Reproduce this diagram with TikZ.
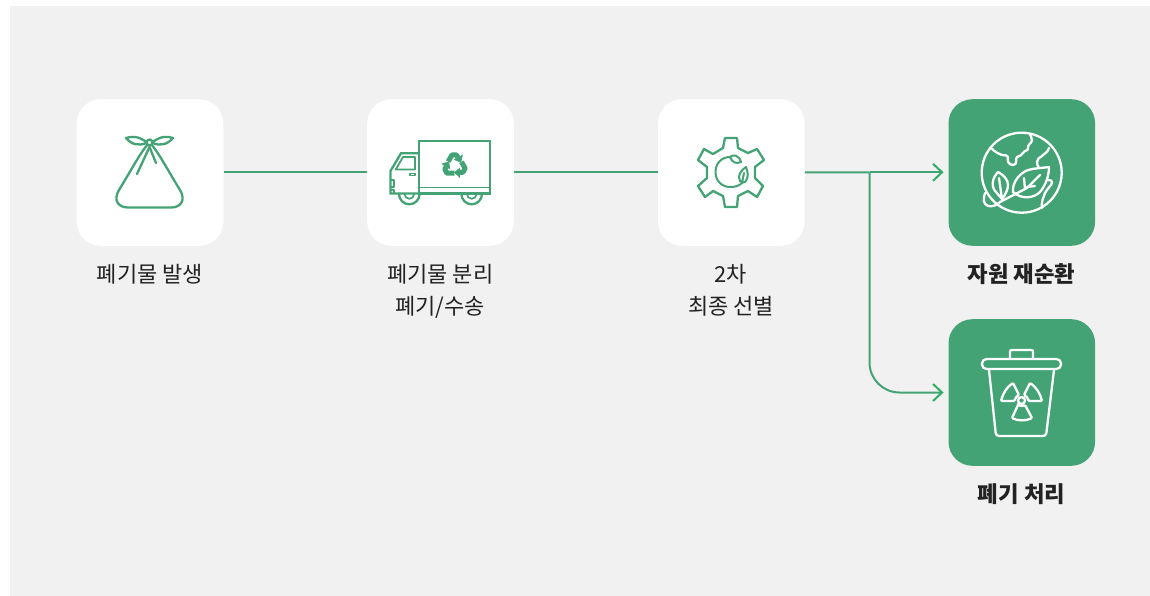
\documentclass[tikz,border=0pt]{standalone}
\usepackage{fontspec}
\setmainfont{Noto Sans CJK KR}
\usetikzlibrary{arrows.meta}
\definecolor{bgc}{HTML}{F1F1F1}
\definecolor{grn}{HTML}{43A374}
\definecolor{arrowg}{HTML}{2FAE63}
\definecolor{txt}{HTML}{222222}
\tikzset{
 x=1pt,y=-1pt,
 card/.style={rounded corners=24pt,minimum width=146.6pt,minimum height=146.6pt,inner sep=0pt,anchor=north west},
 whitecard/.style={card,fill=white},
 greencard/.style={card,fill=grn},
 caption/.style={text=txt,font=\fontsize{22pt}{32pt}\selectfont,align=center,anchor=north},
 boldcaption/.style={caption,font=\fontsize{22.3pt}{32pt}\selectfont\bfseries},
 link/.style={draw=grn,line width=2pt},
 arr/.style={link,-{Straight Barb[length=9pt,width=17pt,line width=2pt,color=arrowg]}},
 gi/.style={draw=grn,line width=2.3pt,line join=round,line cap=round},
 wi/.style={draw=white,line width=2.3pt,line join=round,line cap=round},
 rarm/.style={draw=grn,line width=5pt,line join=round},
}
\begin{document}
\begin{tikzpicture}
\useasboundingbox (0,0) rectangle (1150,596);
\fill[white] (0,0) rectangle (1150,596);
\fill[bgc] (10,6) rectangle (1150,596);
\node[whitecard] (a) at (76.5,99) {};
\node[whitecard] (b) at (367,99) {};
\node[whitecard] (c) at (657.8,99) {};
\node[greencard] (d) at (948.3,99) {};
\node[greencard] (e) at (948.3,319) {};
\node[caption] (ta) at (150,260.5) {폐기물 발생};
\node[caption] (tb) at (440.3,260.5) {폐기물 분리\\폐기/수송};
\node[caption] (tc) at (731,260.5) {2차\\최종 선별};
\node[boldcaption] (td) at (1021.5,260) {자원 재순환};
\node[boldcaption] (te) at (1021.5,480) {폐기 처리};
\coordinate (ajunc) at (869.5,172.3);
\coordinate (dtip) at (943.5,172.3);
\coordinate (etip) at (943.5,392.5);
\draw[link] (a.east) -- (b.west);
\draw[link] (b.east) -- (c.west);
\draw[link] (c.east) -- (ajunc);
\draw[arr] (ajunc) -- (dtip);
\draw[arr,rounded corners=30pt] (ajunc) -- (869.5,392.5) -- (etip);
% bag
\draw[gi] (149.5,142.5) .. controls (141,151) and (132,169) .. (119,190)
 .. controls (113,200) and (118,207.5) .. (128,207.5) -- (171,207.5)
 .. controls (181,207.5) and (186,200) .. (180,190)
 .. controls (167,169) and (158,151) .. (149.5,142.5);
\draw[gi] (149.5,147) -- (137,174);
\draw[gi] (149.5,147) -- (156,163);
\draw[gi,fill=white] (149.5,142.5) circle (3pt);
\draw[gi] (146.5,142) .. controls (138,136) and (132,136) .. (126,138) .. controls (132,145) and (139,146) .. (146.5,143);
\draw[gi] (152.5,142) .. controls (161,136) and (167,136) .. (173,138) .. controls (167,145) and (160,146) .. (152.5,143);
% truck
\draw[gi,line join=miter] (419,141) rectangle (490,193.5);
\draw[gi,line width=1.8pt] (419,187.5) -- (490,187.5);
\draw[gi,line join=miter] (419,193.5) -- (390.5,193.5) -- (390.5,171) -- (401,153.3) -- (419,153.3);
\draw[gi,line width=1.8pt] (395.7,169.5) -- (403,157) -- (415,157) -- (415,169.5) -- cycle;
\draw[gi,line width=1.6pt] (410,173.5) rectangle (415,175.5);
\draw[gi,line width=1.4pt] (391,180) -- (394,180) -- (394,187) -- (391,187);
\draw[gi,line width=1.4pt] (391,190) -- (394,190) -- (394,193);
\draw[gi] (399,194) arc[start angle=180,end angle=360,radius=10.3pt];
\draw[gi] (461.4,194) arc[start angle=180,end angle=360,radius=10.3pt];
\draw[gi,line width=1.7pt] (404.5,194) arc[start angle=180,end angle=360,radius=4.8pt];
\draw[gi,line width=1.7pt] (466.9,194) arc[start angle=180,end angle=360,radius=4.8pt];
% recycle
\foreach \ang in {0,120,240}{
 \begin{scope}[shift={(454.7,165.5)},rotate=-\ang]
  \draw[rarm] (-6.5,-4) -- (-2.8,-10.5) -- (1.8,-10.5) -- (3.2,-8);
  \fill[grn] (8.2,-11) -- (-1,-5.8) -- (6.4,-2.8) -- cycle;
 \end{scope}
}
% gear
\draw[gi] (725,138) -- (737,138) -- (738,148) -- (748,153) -- (757,149) -- (764,160) -- (755,167) -- (755,178) -- (763,186) -- (757,197) -- (748,191) -- (738,196) -- (737,207) -- (725,207) -- (723,196) -- (713,191) -- (705,197) -- (698,186) -- (707,178) -- (707,167) -- (698,160) -- (704,149) -- (713,154) -- (723,148) -- cycle;
\draw[gi,line width=2pt] (730,157) .. controls (721,157) and (715.5,164) .. (715.5,172) .. controls (715.5,181) and (722,187) .. (730,187) .. controls (735,187) and (739,186) .. (742,183);
\draw[gi,line width=2pt] (730,157) .. controls (733,154) and (739,155) .. (741,162) .. controls (737,164) and (732,163) .. (730,157) -- cycle;
\draw[gi,line width=2pt] (746,167) .. controls (741,170) and (737,176) .. (740,181) .. controls (741,183) and (744,183) .. (745,182) .. controls (749,178) and (748,172) .. (746,167) -- cycle (742,183) -- (744,173);
% globe
\draw[wi] (1021.7,172.7) circle (40pt);
\draw[wi] (991,148) .. controls (995,152) and (999,154) .. (1002,155) .. controls (1005,155.5) and (1008,155) .. (1008,157) .. controls (1007,160) and (1008,165) .. (1013,165) .. controls (1018,165) and (1015,158) .. (1017,157) .. controls (1020,155) and (1022,156) .. (1023,153) .. controls (1024,150) and (1029,151) .. (1028,148) .. controls (1027,145) and (1032,143) .. (1032,140) .. controls (1032,137) and (1030,136) .. (1030,134);
\draw[wi] (1049,148) .. controls (1048,152) and (1045,153) .. (1042,156) .. controls (1039,158) and (1037,159) .. (1037,162) .. controls (1037,165) and (1038,166) .. (1039,168);
\draw[wi] (1048,180) .. controls (1052,180) and (1053,182) .. (1051,185) .. controls (1049,188) and (1046,190) .. (1045,193) .. controls (1044,197) and (1041,200) .. (1042,208);
\draw[wi] (1013,192) .. controls (1012,182) and (1020,173) .. (1028,170) .. controls (1035,168) and (1043,168) .. (1049,167) .. controls (1049,175) and (1046,185) .. (1040,192) .. controls (1034,198) and (1022,200) .. (1013,192) -- cycle;
\draw[wi] (1000,202) -- (1027,188) -- (1040,175);
\draw[wi] (1025,189) -- (1024,178) (1027,187) -- (1035,186);
\draw[wi] (998,172) .. controls (993,177) and (992,183) .. (993,187) .. controls (994,191) and (999,195) .. (1002,199) .. controls (1005,195) and (1008,190) .. (1008,185) .. controls (1008,180) and (1004,175) .. (998,172) -- cycle (999,178) -- (1002,199);
\draw[wi] (985,193) .. controls (983,199) and (983,204) .. (988,206) .. controls (993,207) and (997,205) .. (1000,202);
% bin
\draw[wi] (1010,358) -- (1010,352) .. controls (1010,350) and (1011,350) .. (1012,350) -- (1031,350) .. controls (1033,350) and (1033,351) .. (1033,352) -- (1033,358);
\draw[wi,rounded corners=4.5pt] (982,359) rectangle (1061,369);
\draw[wi,rounded corners=3pt] (989,370) -- (996,436) -- (1046,436) -- (1054,370);
\draw[wi,rounded corners=1pt] (1013,383) .. controls (1007,387) and (1003,393) .. (1001,401) -- (1014.5,401) .. controls (1015,398) and (1017,396) .. (1019,395) -- cycle;
\draw[wi,rounded corners=1pt] (1030,383) .. controls (1036,387) and (1040,393) .. (1042,401) -- (1028.5,401) .. controls (1028,398) and (1026,396) .. (1024,395) -- cycle;
\draw[wi,rounded corners=1pt] (1018,405) -- (1012,418) .. controls (1018,421) and (1026,421) .. (1032,418) -- (1025,405) .. controls (1023,406) and (1020,406) .. (1018,405) -- cycle;
\draw[wi] (1021.5,400.5) circle (3.5pt);
\end{tikzpicture}
\end{document}
